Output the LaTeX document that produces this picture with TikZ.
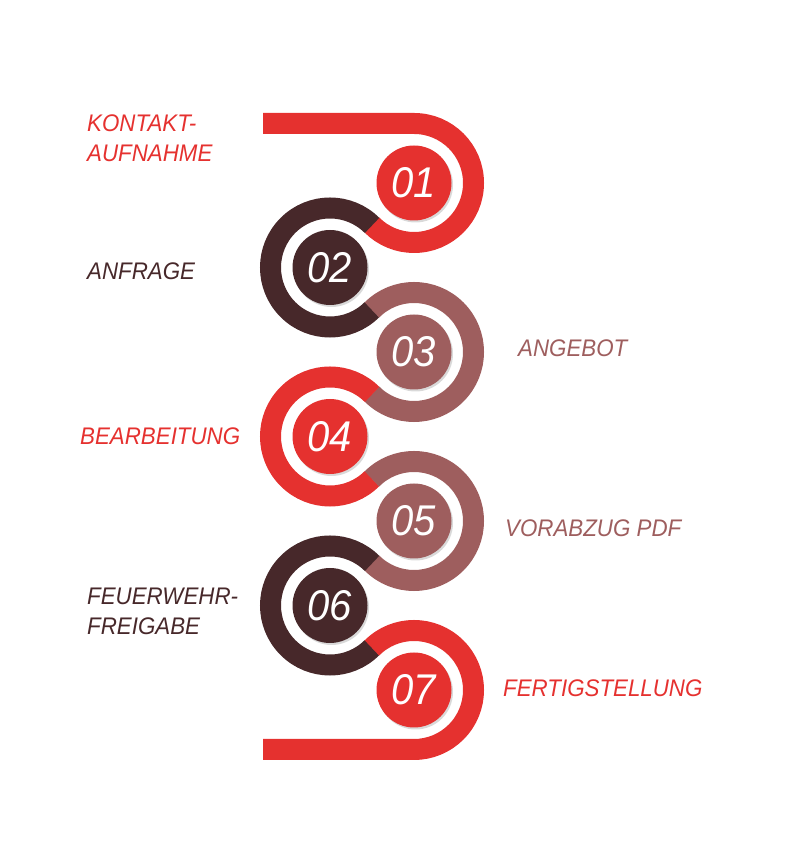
\documentclass[tikz,border=0pt]{standalone}
\usepackage{fontspec}
\setmainfont[FakeStretch=0.93]{Liberation Sans}
\usetikzlibrary{shadows}

\definecolor{stepred}{HTML}{E5312F}
\definecolor{stepdark}{HTML}{47282A}
\definecolor{steprose}{HTML}{9E5E5E}

\tikzset{
  ring/.style   = {line width=21pt},
  stepdot/.style = {circle, minimum size=75pt, inner sep=0pt,
                    text=white, font=\fontsize{43}{43}\selectfont\itshape,
                    drop shadow={shadow xshift=1.5pt, shadow yshift=-2pt,
                                 opacity=0.15, fill=black}},
  steptext/.style = {inner sep=0pt, align=left,
                     font=\fontsize{24}{30}\selectfont\itshape}
}

\begin{document}
\begin{tikzpicture}[x=1pt, y=1pt]
  \useasboundingbox (0,0) rectangle (800,851);
  \def\r{59.5}
  \node[stepdot, fill=stepred]  (s1) at (414,668)   {01};
  \node[stepdot, fill=stepdark] (s2) at (330,583.5) {02};
  \node[stepdot, fill=steprose] (s3) at (414,499)   {03};
  \node[stepdot, fill=stepred]  (s4) at (330,414.5) {04};
  \node[stepdot, fill=steprose] (s5) at (414,330)   {05};
  \node[stepdot, fill=stepdark] (s6) at (330,245.5) {06};
  \node[stepdot, fill=stepred]  (s7) at (414,161)   {07};
  \coordinate (start) at (263,727.5);
  \coordinate (stop)  at (263,101.5);
  \draw[ring, stepred]  (start) -- ([shift={(90:\r)}]s1.center)
    arc[start angle=90,  end angle=-135, radius=\r];
  \draw[ring, stepdark] ([shift={(45:\r)}]s2.center)
    arc[start angle=45,  end angle=315,  radius=\r];
  \draw[ring, steprose] ([shift={(135:\r)}]s3.center)
    arc[start angle=135, end angle=-135, radius=\r];
  \draw[ring, stepred]  ([shift={(45:\r)}]s4.center)
    arc[start angle=45,  end angle=315,  radius=\r];
  \draw[ring, steprose] ([shift={(135:\r)}]s5.center)
    arc[start angle=135, end angle=-135, radius=\r];
  \draw[ring, stepdark] ([shift={(45:\r)}]s6.center)
    arc[start angle=45,  end angle=315,  radius=\r];
  \draw[ring, stepred]  ([shift={(135:\r)}]s7.center)
    arc[start angle=135, end angle=-90,  radius=\r] -- (stop);
  % labels
  \node[steptext, text=stepred,  anchor=north west] (t1) at (87,736)
    {KONTAKT-\\AUFNAHME};
  \node[steptext, text=stepdark, anchor=base west]  (t2) at (87,571)  {ANFRAGE};
  \node[steptext, text=steprose, anchor=base west]  (t3) at (518,494) {ANGEBOT};
  \node[steptext, text=stepred,  anchor=base west]  (t4) at (80,406)  {BEARBEITUNG};
  \node[steptext, text=steprose, anchor=base west]  (t5) at (505,314) {VORABZUG PDF};
  \node[steptext, text=stepdark, anchor=north west] (t6) at (87,263)
    {FEUERWEHR-\\FREIGABE};
  \node[steptext, text=stepred,  anchor=base west]  (t7) at (503,154) {FERTIGSTELLUNG};
\end{tikzpicture}
\end{document}
